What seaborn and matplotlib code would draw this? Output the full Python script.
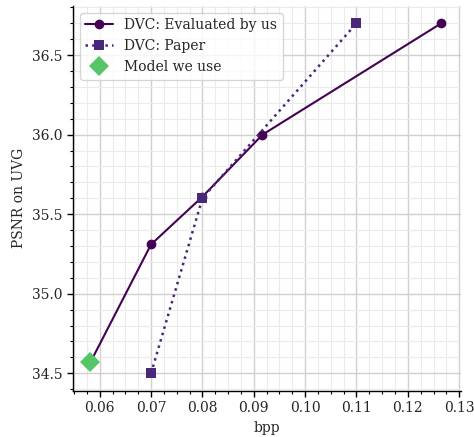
import matplotlib
matplotlib.use("Agg")
import matplotlib.pyplot as plt
from matplotlib.ticker import MultipleLocator
import seaborn as sns
import pandas as pd

# Data
eval_bpp = [0.0582, 0.070, 0.080, 0.0917, 0.1265]
eval_psnr = [34.57, 35.31, 35.61, 36.00, 36.70]
paper_bpp = [0.070, 0.080, 0.110]
paper_psnr = [34.50, 35.60, 36.70]
model_bpp = [0.0582]
model_psnr = [34.573]

sns.set_theme(style="ticks")
plt.rcParams['font.family'] = ['DejaVu Serif']
plt.rcParams['font.size'] = 10

fig = plt.figure(figsize=(4.74, 4.37), dpi=100)
ax = fig.add_axes([0.154, 0.1057, 0.818, 0.881])

df_eval = pd.DataFrame({"bpp": eval_bpp, "psnr": eval_psnr})
df_paper = pd.DataFrame({"bpp": paper_bpp, "psnr": paper_psnr})

sns.lineplot(data=df_eval, x="bpp", y="psnr", ax=ax, color="#440154", marker="o",
             markersize=7, markeredgewidth=0, linewidth=1.5, label="DVC: Evaluated by us",
             sort=False, zorder=3)
sns.lineplot(data=df_paper, x="bpp", y="psnr", ax=ax, color="#482878", marker="s",
             markersize=6.5, markeredgewidth=0, linewidth=1.8, linestyle=":",
             label="DVC: Paper", sort=False, zorder=3)
ax.plot(model_bpp, model_psnr, linestyle="none", marker="D", markersize=10.5,
        color="#55c667", markeredgewidth=0, label="Model we use", zorder=4)

ax.set_xlim(0.0548, 0.1303)
ax.set_ylim(34.39, 36.81)
ax.xaxis.set_major_locator(MultipleLocator(0.01))
ax.xaxis.set_minor_locator(MultipleLocator(0.0025))
ax.yaxis.set_major_locator(MultipleLocator(0.5))
ax.yaxis.set_minor_locator(MultipleLocator(0.1))
ax.grid(which="major", color="#d0d0d0", linewidth=1.0)
ax.grid(which="minor", color="#ebebeb", linewidth=0.8)
ax.set_axisbelow(True)

ax.tick_params(axis="both", which="major", labelsize=10, length=4, width=1, color="black")
ax.tick_params(axis="both", which="minor", length=2.5, width=0.8, color="black")

ax.set_xlabel("bpp", fontsize=10)
ax.set_ylabel("PSNR on UVG", fontsize=10)
sns.despine(ax=ax)
for s in ["left", "bottom"]:
    ax.spines[s].set_color("black")
    ax.spines[s].set_linewidth(1.0)

ax.legend(loc="upper left", fontsize=10, frameon=True, fancybox=True, framealpha=0.8,
          edgecolor="#cccccc")

fig.savefig("out.png", dpi=100)
